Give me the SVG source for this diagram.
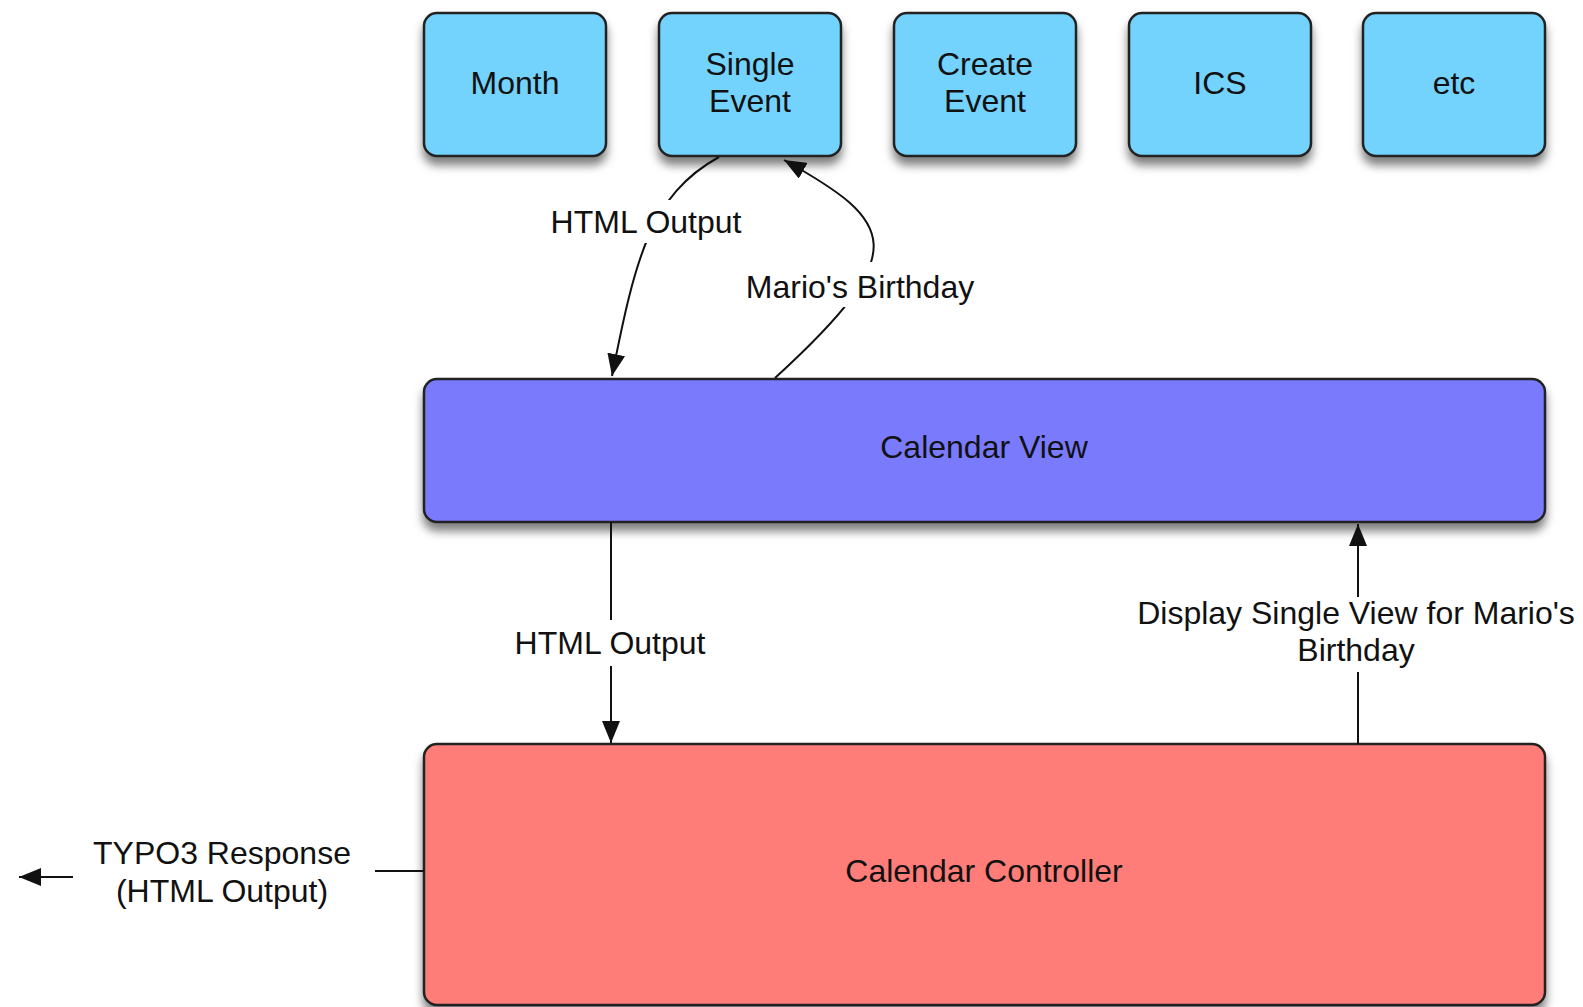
<svg xmlns="http://www.w3.org/2000/svg" width="1583" height="1007" viewBox="0 0 1583 1007">
  <style>
    .box { stroke: #222; stroke-width: 2.5; }
    .blue { fill: #73D3FD; }
    .view { fill: #7A7AFD; }
    .ctrl { fill: #FF7D79; }
    .lbl { font-family: "Liberation Sans", Arial, sans-serif; font-size: 32px; fill: #111; text-anchor: middle; }
    .con { fill: none; stroke: #111; stroke-width: 2; }
  </style>
  <defs>
    <filter id="shadow" x="-10%" y="-10%" width="120%" height="130%">
      <feDropShadow dx="0" dy="8" stdDeviation="5" flood-color="#000" flood-opacity="0.5"/>
    </filter>
    <marker id="arrow" viewBox="0 0 22 18" refX="22" refY="9" markerWidth="22" markerHeight="18" markerUnits="userSpaceOnUse" orient="auto">
      <path d="M0,0 L22,9 L0,18 z" fill="#111"/>
    </marker>
    <mask id="gaps" maskUnits="userSpaceOnUse" x="0" y="0" width="1583" height="1007">
      <rect x="0" y="0" width="1583" height="1007" fill="#fff"/>
      <rect x="545" y="200" width="202" height="43" fill="#000"/>
      <rect x="742" y="262" width="236" height="45" fill="#000"/>
    </mask>
  </defs>
  <rect width="1583" height="1007" fill="#fff"/>

  <g id="node-month">
    <rect class="box blue" x="424" y="13" width="182" height="143" rx="13" filter="url(#shadow)"/>
    <text class="lbl" x="515" y="94">Month</text>
  </g>
  <g id="node-single-event">
    <rect class="box blue" x="659" y="13" width="182" height="143" rx="13" filter="url(#shadow)"/>
    <text class="lbl" x="750" y="75">Single</text>
    <text class="lbl" x="750" y="112">Event</text>
  </g>
  <g id="node-create-event">
    <rect class="box blue" x="894" y="13" width="182" height="143" rx="13" filter="url(#shadow)"/>
    <text class="lbl" x="985" y="75">Create</text>
    <text class="lbl" x="985" y="112">Event</text>
  </g>
  <g id="node-ics">
    <rect class="box blue" x="1129" y="13" width="182" height="143" rx="13" filter="url(#shadow)"/>
    <text class="lbl" x="1220" y="94">ICS</text>
  </g>
  <g id="node-etc">
    <rect class="box blue" x="1363" y="13" width="182" height="143" rx="13" filter="url(#shadow)"/>
    <text class="lbl" x="1454" y="94">etc</text>
  </g>
  <g id="node-calendar-view">
    <rect class="box view" x="424" y="379" width="1121" height="143" rx="13" filter="url(#shadow)"/>
    <text class="lbl" x="984" y="458">Calendar View</text>
  </g>
  <g id="node-calendar-controller">
    <rect class="box ctrl" x="424" y="744" width="1121" height="261" rx="13" filter="url(#shadow)"/>
    <text class="lbl" x="984" y="882">Calendar Controller</text>
  </g>

  <g id="connectors">
    <g mask="url(#gaps)">
      <path class="con" d="M719,157 C650,195 635,260 612,376" marker-end="url(#arrow)"/>
      <path class="con" d="M775,378 C915,250 895,222 784,160" marker-end="url(#arrow)"/>
    </g>
    <text class="lbl" x="646" y="233">HTML Output</text>
    <text class="lbl" x="860" y="298">Mario's Birthday</text>

    <path class="con" d="M611,522 V620"/>
    <path class="con" d="M611,666 V743" marker-end="url(#arrow)"/>
    <text class="lbl" x="610" y="654">HTML Output</text>

    <path class="con" d="M1358,744 V672"/>
    <path class="con" d="M1358,597 V524" marker-end="url(#arrow)"/>
    <text class="lbl" x="1356" y="624">Display Single View for Mario's</text>
    <text class="lbl" x="1356" y="661">Birthday</text>

    <path class="con" d="M424,871 H375"/>
    <path class="con" d="M73,877 H19" marker-end="url(#arrow)"/>
    <text class="lbl" x="222" y="864">TYPO3 Response</text>
    <text class="lbl" x="222" y="902">(HTML Output)</text>
  </g>
</svg>
